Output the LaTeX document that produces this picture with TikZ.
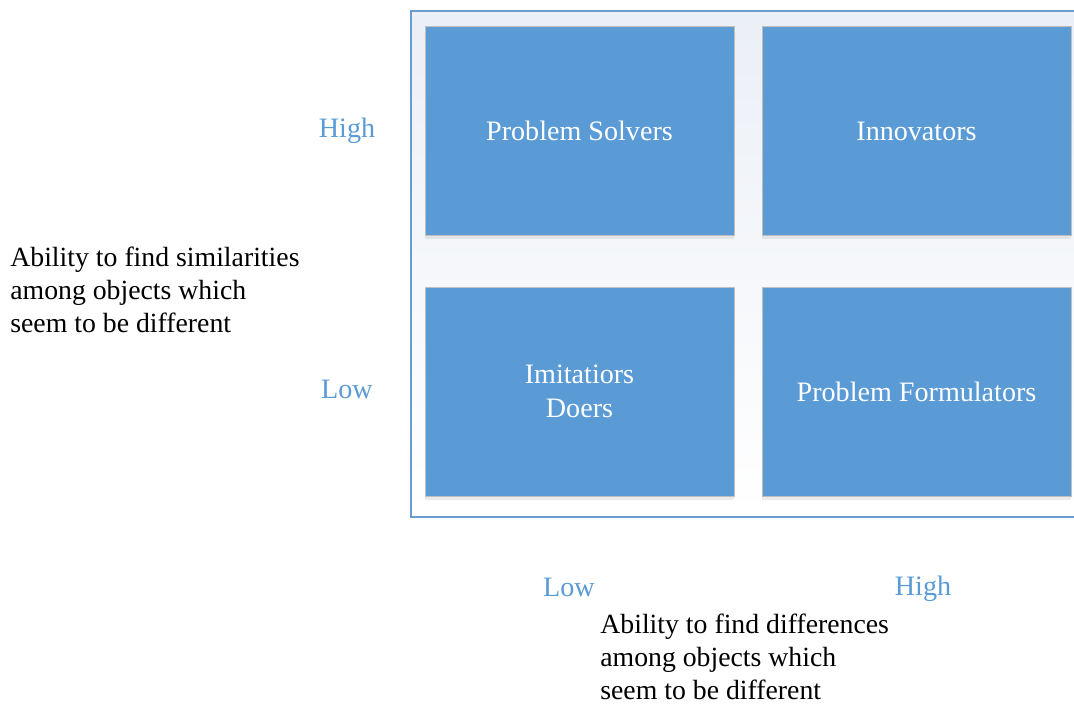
\documentclass[tikz,border=0pt]{standalone}
\usepackage{fontspec}
\setmainfont{Liberation Serif}
\usepackage{tikz}
\usetikzlibrary{shapes, positioning, backgrounds, shadows}
\definecolor{quadblue}{HTML}{5B9BD5}
\definecolor{frameblue}{HTML}{6B9BCF}
\definecolor{paleback}{HTML}{EBEFF6}
\tikzstyle{quad} = [rectangle, minimum width=6.18cm, minimum height=4.18cm, text centered, align=center, draw=black!25, fill=quadblue, text=white, font=\fontsize{16}{19}\selectfont, drop shadow={shadow xshift=0pt, shadow yshift=-2pt, opacity=0.15}]
\tikzstyle{level} = [text=quadblue, font=\fontsize{16}{19}\selectfont]
\tikzstyle{axislabel} = [align=left, anchor=north west, font=\fontsize{15.8}{18.7}\selectfont, inner sep=0pt]

\begin{document}
\begin{tikzpicture}[x=0.02cm, y=-0.02cm]

    \useasboundingbox (0, 0) rectangle (1074, 703);

    % frame round the four quadrants
    \begin{scope}
        \clip (0, 0) rectangle (1074, 703);
        \shade [top color=paleback, bottom color=white, draw=frameblue, line width=1.2pt] (411, 11) rectangle (1090, 517);
    \end{scope}

    \node (solvers) [quad] at (579.5, 131) {Problem Solvers};
    \node (innovators) [quad] at (916.5, 131) {Innovators};
    \node (doers) [quad] at (579.5, 391.5) {Imitatiors\\Doers};
    \node (formulators) [quad] at (916.5, 391.5) {Problem Formulators};

    \node (simhigh) [level] at (347, 131) {High};
    \node (simlow) [level] at (347, 389) {Low};
    \node (difflow) [level] at (569, 587) {Low};
    \node (diffhigh) [level] at (923, 589) {High};

    \node (simlabel) [axislabel] at (10, 247) {Ability to find similarities\\among objects which\\seem to be different};
    \node (difflabel) [axislabel] at (600, 614) {Ability to find differences\\among objects which\\seem to be different};

\end{tikzpicture}
\end{document}
